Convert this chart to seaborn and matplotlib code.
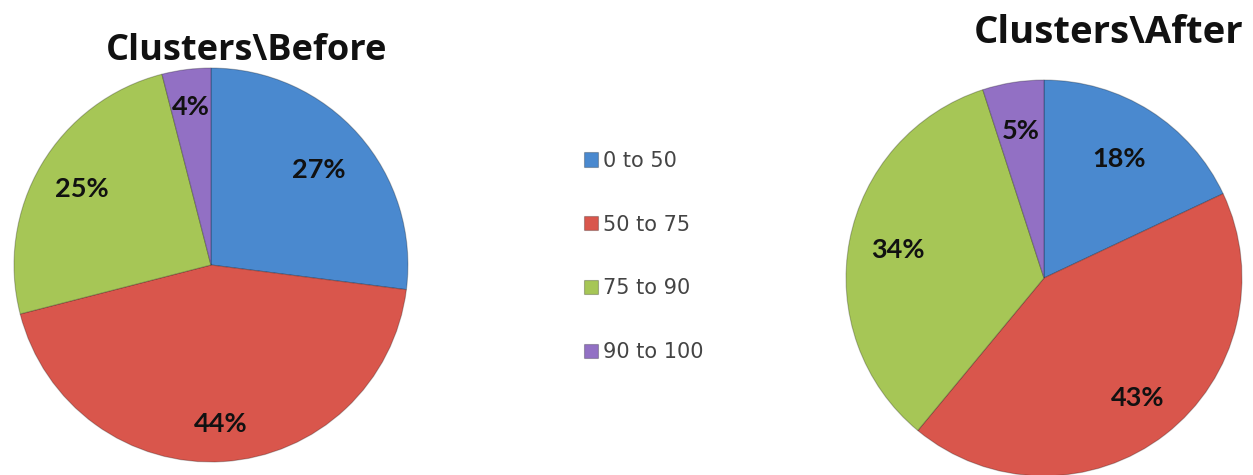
import matplotlib
matplotlib.use("Agg")
import matplotlib.pyplot as plt
import numpy as np
import seaborn as sns

# data
bins = ["0 to 50", "50 to 75", "75 to 90", "90 to 100"]
before_pct = [27, 44, 25, 4]
after_pct = [18, 43, 34, 5]
titles = ["Clusters\\Before", "Clusters\\After"]

# label distance from the centre (fraction of radius), Excel "best fit" look
before_label_r = [0.73, 0.81, 0.76, 0.81]
after_label_r = [0.71, 0.77, 0.75, 0.75]

sns.set_theme(style="white")
plt.rcParams['font.family'] = ['Open Sans', 'DejaVu Sans']
colors = sns.color_palette(["#4a89cf", "#d9564c", "#a6c656", "#9270c4"])

fig = plt.figure(figsize=(12.53, 4.75), dpi=100)
fig.patch.set_facecolor("white")

# axes placed so each pie has radius ~197 px
ax_before = fig.add_axes([0.01117, 0.02737, 0.3144, 0.8295])
ax_after = fig.add_axes([0.6752, -0.0021, 0.3160, 0.8337])

wedge_style = dict(edgecolor=(0, 0, 0, 0.25), linewidth=0.8)
text_style = dict(fontsize=19.5, fontweight="bold", color="#111111", family="Lato")


def draw_pie(ax, values, label_r, shift=0):
    wedges, _, autotexts = ax.pie(values, colors=colors, startangle=90, counterclock=False,
                                  autopct="%d%%", wedgeprops=wedge_style,
                                  textprops=text_style)
    # push each percent label to its own radius along the wedge bisector
    for w, t, r in zip(wedges, autotexts, label_r):
        mid = np.deg2rad((w.theta1 + w.theta2) / 2)
        t.set_position((r * np.cos(mid), r * np.sin(mid)))
    ax.set_xlim(-1, 1)
    ax.set_ylim(-1, 1)
    ax.set_axis_off()
    return wedges


wedges = draw_pie(ax_before, before_pct, before_label_r)
draw_pie(ax_after, after_pct, after_label_r)

fig.text(247 / 1253, 1 - 60 / 475, titles[0], ha="center", va="baseline",
         fontsize=26, fontweight="bold", color="#111111")
fig.text(1109 / 1253, 1 - 43 / 475, titles[1], ha="center", va="baseline",
         fontsize=27.5, fontweight="bold", color="#111111")

leg = fig.legend(wedges, bins, loc="center", bbox_to_anchor=(0.514, 0.46),
                 frameon=False, fontsize=15, labelspacing=2.1,
                 handlelength=0.67, handleheight=0.67, handletextpad=0.25)
for t in leg.get_texts():
    t.set_color("#444444")
    t.set_family("DejaVu Sans")

fig.savefig("out.png", dpi=100)
